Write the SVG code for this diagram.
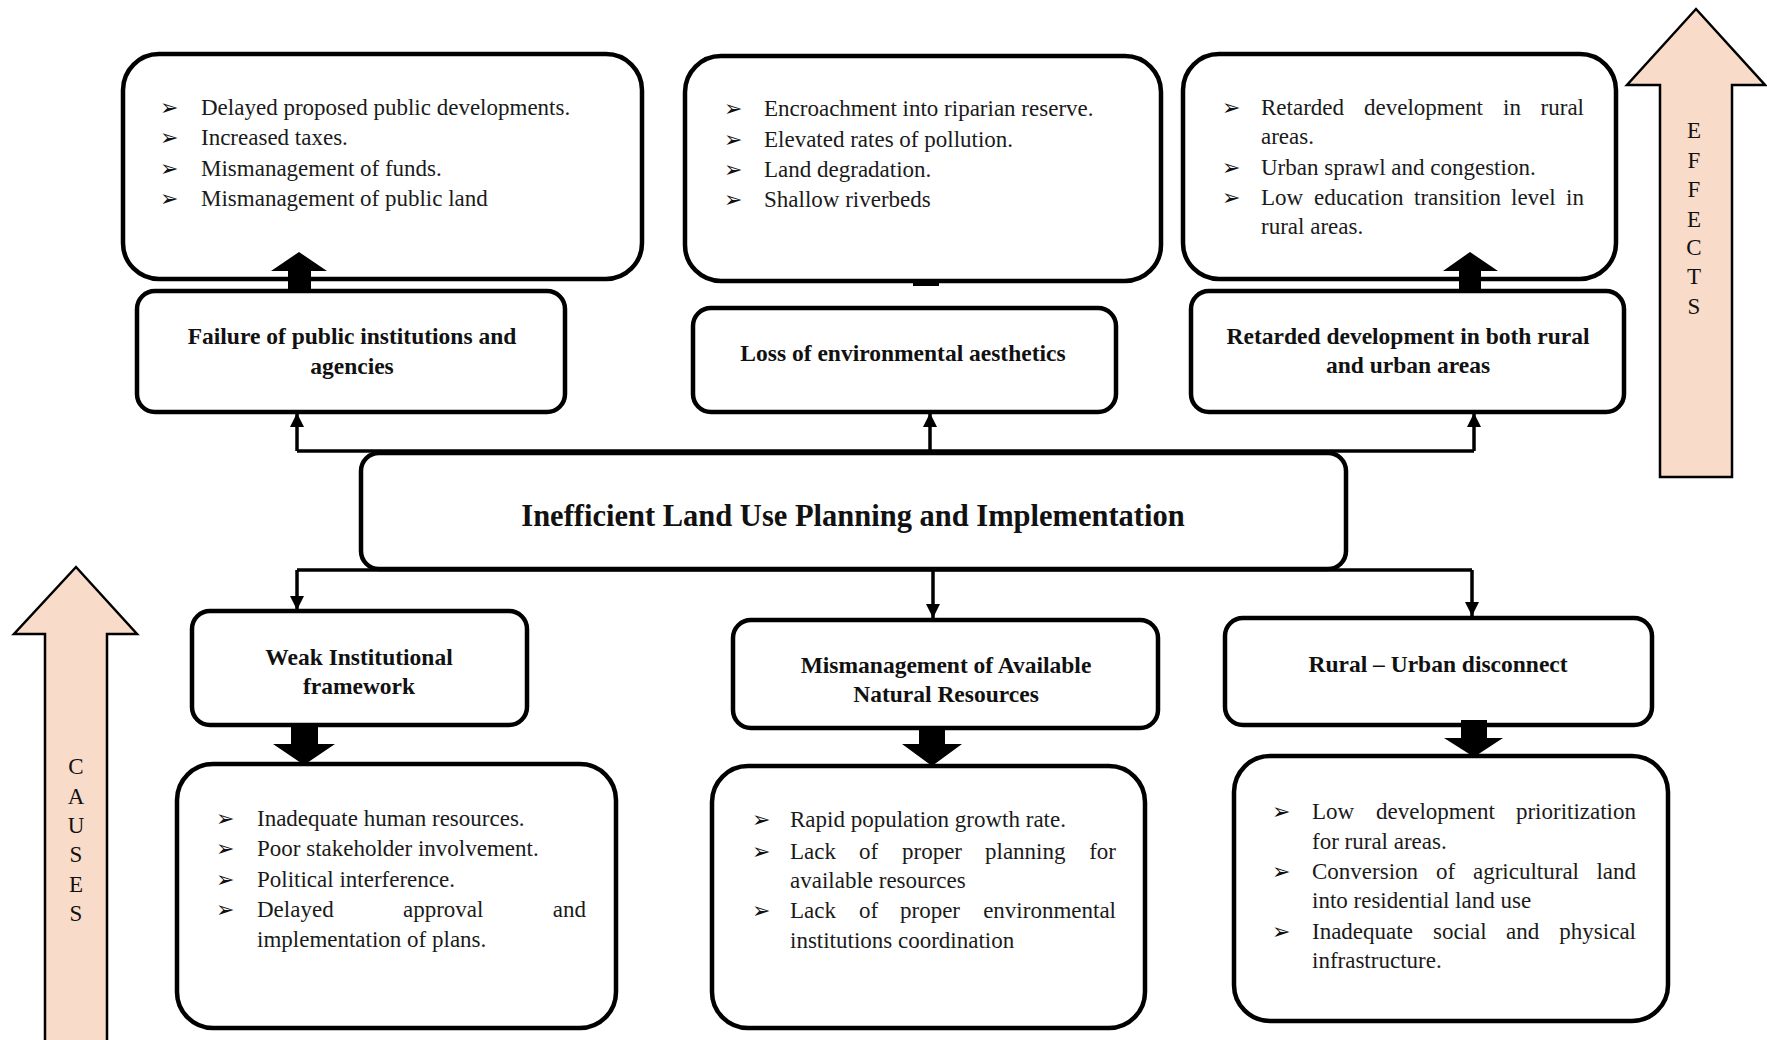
<svg xmlns="http://www.w3.org/2000/svg" width="1767" height="1040" viewBox="0 0 1767 1040">
  <defs>
    <style>
      .box { fill: #fff; stroke: #000; stroke-width: 4.5; }
      .body { font-family: "Liberation Serif", "Times New Roman", serif; font-size: 23px; fill: #1a1a1a; }
      .bul { font-family: "DejaVu Sans", sans-serif; font-size: 22px; fill: #111; }
      .lbl { font-family: "Liberation Serif", "Times New Roman", serif; font-size: 23.5px; font-weight: bold; fill: #111; text-anchor: middle; }
      .title { font-family: "Liberation Serif", "Times New Roman", serif; font-size: 30.5px; font-weight: bold; fill: #111; text-anchor: middle; }
      .side { font-family: "Liberation Serif", "Times New Roman", serif; font-size: 23px; fill: #111; text-anchor: middle; }
      .flow { fill: none; stroke: #000; stroke-width: 3.5; }
      .block { fill: #000; }
      .big { fill: #F9DBC9; stroke: #000; stroke-width: 2.5; stroke-linejoin: miter; }
      .end { text-anchor: end; }
    </style>
    <marker id="tip" markerUnits="userSpaceOnUse" markerWidth="14" markerHeight="16" viewBox="0 0 14 16" refX="14" refY="8" orient="auto">
      <path d="M0,1 L14,8 L0,15 Z" fill="#000"/>
    </marker>
  </defs>

  <!-- Side direction arrows -->
  <g id="effects-arrow">
    <polygon class="big" points="1696,9 1765,85 1732,85 1732,477 1660,477 1660,85 1627,85"/>
    <text class="side" x="1694" y="138">E</text>
    <text class="side" x="1694" y="168">F</text>
    <text class="side" x="1694" y="197">F</text>
    <text class="side" x="1694" y="227">E</text>
    <text class="side" x="1694" y="255">C</text>
    <text class="side" x="1694" y="284">T</text>
    <text class="side" x="1694" y="314">S</text>
  </g>
  <g id="causes-arrow">
    <polygon class="big" points="76,567 137,634 107,634 107,1045 45,1045 45,634 14,634"/>
    <text class="side" x="76" y="774">C</text>
    <text class="side" x="76" y="804">A</text>
    <text class="side" x="76" y="833">U</text>
    <text class="side" x="76" y="862">S</text>
    <text class="side" x="76" y="892">E</text>
    <text class="side" x="76" y="921">S</text>
  </g>

  <!-- Effects -->
  <g id="effect-list-institutions">
    <rect class="box" x="123" y="54" width="519" height="225" rx="36"/>
    <text class="bul" x="160" y="115">➢</text><text class="body" x="201" y="115">Delayed proposed public developments.</text>
    <text class="bul" x="160" y="145">➢</text><text class="body" x="201" y="145">Increased taxes.</text>
    <text class="bul" x="160" y="176">➢</text><text class="body" x="201" y="176">Mismanagement of funds.</text>
    <text class="bul" x="160" y="206">➢</text><text class="body" x="201" y="206">Mismanagement of public land</text>
  </g>
  <g id="effect-institutions">
    <rect class="box" x="137" y="291" width="428" height="121" rx="18"/>
    <text class="lbl" x="352" y="344">Failure of public institutions and</text>
    <text class="lbl" x="352" y="374">agencies</text>
  </g>

  <g id="effect-list-environment">
    <rect class="box" x="685" y="56" width="476" height="225" rx="36"/>
    <text class="bul" x="724" y="116">➢</text><text class="body" x="764" y="116">Encroachment into riparian reserve.</text>
    <text class="bul" x="724" y="147">➢</text><text class="body" x="764" y="147">Elevated rates of pollution.</text>
    <text class="bul" x="724" y="177">➢</text><text class="body" x="764" y="177">Land degradation.</text>
    <text class="bul" x="724" y="207">➢</text><text class="body" x="764" y="207">Shallow riverbeds</text>
  </g>
  <g id="effect-environment">
    <rect class="box" x="693" y="308" width="423" height="104" rx="18"/>
    <text class="lbl" x="903" y="361">Loss of environmental aesthetics</text>
  </g>

  <g id="effect-list-development">
    <rect class="box" x="1183" y="54" width="433" height="225" rx="36"/>
    <text class="bul" x="1222" y="115">➢</text>
    <text class="body" y="115"><tspan x="1261">Retarded</tspan><tspan x="1364">development</tspan><tspan x="1503">in</tspan><tspan x="1584" class="end">rural</tspan></text>
    <text class="body" x="1261" y="144">areas.</text>
    <text class="bul" x="1222" y="175">➢</text><text class="body" x="1261" y="175">Urban sprawl and congestion.</text>
    <text class="bul" x="1222" y="205">➢</text>
    <text class="body" y="205"><tspan x="1261">Low</tspan><tspan x="1314">education</tspan><tspan x="1414">transition</tspan><tspan x="1511">level</tspan><tspan x="1584" class="end">in</tspan></text>
    <text class="body" x="1261" y="234">rural areas.</text>
  </g>
  <g id="effect-development">
    <rect class="box" x="1191" y="291" width="433" height="121" rx="18"/>
    <text class="lbl" x="1408" y="344">Retarded development in both rural</text>
    <text class="lbl" x="1408" y="373">and urban areas</text>
  </g>

  <!-- Core problem -->
  <g id="core-problem">
    <rect class="box" x="361" y="453" width="985" height="116" rx="18"/>
    <text class="title" x="853" y="526">Inefficient Land Use Planning and Implementation</text>
  </g>

  <!-- Causes -->
  <g id="cause-institutional">
    <rect class="box" x="192" y="611" width="335" height="114" rx="18"/>
    <text class="lbl" x="359" y="665">Weak Institutional</text>
    <text class="lbl" x="359" y="694">framework</text>
  </g>
  <g id="cause-list-institutional">
    <rect class="box" x="177" y="764" width="439" height="264" rx="36"/>
    <text class="bul" x="216" y="826">➢</text><text class="body" x="257" y="826">Inadequate human resources.</text>
    <text class="bul" x="216" y="856">➢</text><text class="body" x="257" y="856">Poor stakeholder involvement.</text>
    <text class="bul" x="216" y="887">➢</text><text class="body" x="257" y="887">Political interference.</text>
    <text class="bul" x="216" y="917">➢</text>
    <text class="body" y="917"><tspan x="257">Delayed</tspan><tspan x="403">approval</tspan><tspan x="586" class="end">and</tspan></text>
    <text class="body" x="257" y="947">implementation of plans.</text>
  </g>

  <g id="cause-resources">
    <rect class="box" x="733" y="620" width="425" height="108" rx="18"/>
    <text class="lbl" x="946" y="673">Mismanagement of Available</text>
    <text class="lbl" x="946" y="702">Natural Resources</text>
  </g>
  <g id="cause-list-resources">
    <rect class="box" x="712" y="766" width="433" height="262" rx="36"/>
    <text class="bul" x="752" y="827">➢</text><text class="body" x="790" y="827">Rapid population growth rate.</text>
    <text class="bul" x="752" y="859">➢</text>
    <text class="body" y="859"><tspan x="790">Lack</tspan><tspan x="859">of</tspan><tspan x="902">proper</tspan><tspan x="985">planning</tspan><tspan x="1116" class="end">for</tspan></text>
    <text class="body" x="790" y="888">available resources</text>
    <text class="bul" x="752" y="918">➢</text>
    <text class="body" y="918"><tspan x="790">Lack</tspan><tspan x="859">of</tspan><tspan x="900">proper</tspan><tspan x="1116" class="end">environmental</tspan></text>
    <text class="body" x="790" y="948">institutions coordination</text>
  </g>

  <g id="cause-rural-urban">
    <rect class="box" x="1225" y="618" width="427" height="107" rx="18"/>
    <text class="lbl" x="1438" y="672">Rural – Urban disconnect</text>
  </g>
  <g id="cause-list-rural-urban">
    <rect class="box" x="1234" y="756" width="434" height="265" rx="36"/>
    <text class="bul" x="1272" y="819">➢</text>
    <text class="body" y="819"><tspan x="1312">Low</tspan><tspan x="1376">development</tspan><tspan x="1636" class="end">prioritization</tspan></text>
    <text class="body" x="1312" y="849">for rural areas.</text>
    <text class="bul" x="1272" y="879">➢</text>
    <text class="body" y="879"><tspan x="1312">Conversion</tspan><tspan x="1436">of</tspan><tspan x="1473">agricultural</tspan><tspan x="1636" class="end">land</tspan></text>
    <text class="body" x="1312" y="908">into residential land use</text>
    <text class="bul" x="1272" y="939">➢</text>
    <text class="body" y="939"><tspan x="1312">Inadequate</tspan><tspan x="1433">social</tspan><tspan x="1506">and</tspan><tspan x="1636" class="end">physical</tspan></text>
    <text class="body" x="1312" y="968">infrastructure.</text>
  </g>

  <!-- Connectors, drawn over the boxes -->
  <g id="connectors">
    <path class="flow" d="M297,451 H1474"/>
    <path class="flow" d="M297,451 V413" marker-end="url(#tip)"/>
    <path class="flow" d="M930,451 V413" marker-end="url(#tip)"/>
    <path class="flow" d="M1474,451 V413" marker-end="url(#tip)"/>
    <path class="flow" d="M297,570 H1472"/>
    <path class="flow" d="M297,570 V610" marker-end="url(#tip)"/>
    <path class="flow" d="M933,570 V618" marker-end="url(#tip)"/>
    <path class="flow" d="M1472,570 V616" marker-end="url(#tip)"/>
    <!-- block arrows between headings and bullet lists -->
    <polygon class="block" points="299,252 327,271 311,271 311,291 288,291 288,271 271,271"/>
    <rect class="block" x="913" y="281" width="26" height="5"/>
    <polygon class="block" points="1470,252 1498,271 1481,271 1481,291 1459,291 1459,271 1443,271"/>
    <polygon class="block" points="291,727 318,727 318,744 335,744 304,765 273,744 291,744"/>
    <polygon class="block" points="919,730 945,730 945,744 962,744 932,766 902,744 919,744"/>
    <polygon class="block" points="1461,720 1487,720 1487,738 1503,738 1474,757 1444,738 1461,738"/>
  </g>
</svg>
